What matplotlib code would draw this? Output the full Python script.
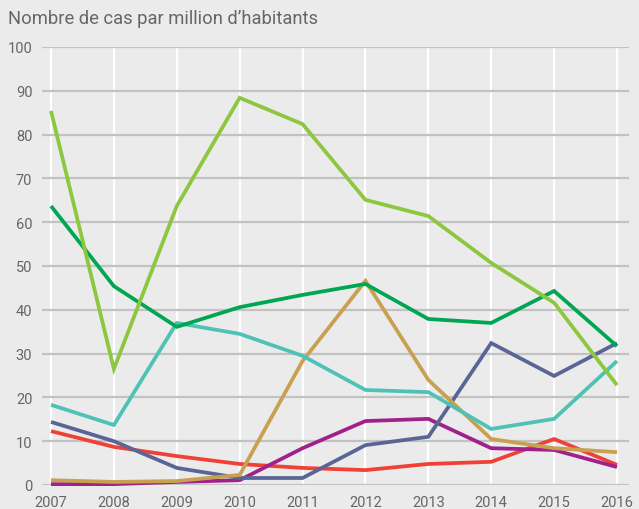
import matplotlib
matplotlib.use("Agg")
import matplotlib.pyplot as plt

years = [2007, 2008, 2009, 2010, 2011, 2012, 2013, 2014, 2015, 2016]

light_green = [85.4, 26.5, 63.7, 88.4, 82.4, 65.1, 61.4, 50.7, 41.6, 22.8]
dark_green = [63.7, 45.4, 36.1, 40.6, 43.4, 45.9, 37.9, 37.0, 44.3, 31.7]
teal = [18.3, 13.7, 37.0, 34.5, 29.5, 21.7, 21.2, 12.8, 15.1, 28.3]
slate = [14.4, 10.0, 3.9, 1.6, 1.6, 9.1, 11.0, 32.4, 24.9, 32.4]
gold = [1.1, 0.7, 0.9, 2.3, 28.3, 46.6, 24.0, 10.5, 8.4, 7.5]
red = [12.3, 8.7, 6.6, 4.8, 3.9, 3.4, 4.8, 5.3, 10.5, 4.6]
purple = [0.2, 0.2, 0.7, 1.1, 8.4, 14.6, 15.1, 8.4, 8.0, 4.1]

y_ticks = [0, 10, 20, 30, 40, 50, 60, 70, 80, 90, 100]
title = "Nombre de cas par million d\u2019habitants"

series = [
    (red, "#ef4136"),
    (purple, "#a0218c"),
    (slate, "#5a6596"),
    (gold, "#c9a050"),
    (teal, "#4fc1b5"),
    (dark_green, "#00a651"),
    (light_green, "#8dc63f"),
]

bg = "#ebebeb"
fig = plt.figure(figsize=(6.39, 5.10), dpi=100, facecolor=bg)
W, H = 639, 510
left, right, top, bottom = 42, 629, 48, 486
ax = fig.add_axes([left / W, 1 - bottom / H, (right - left) / W, (bottom - top) / H])
ax.set_facecolor(bg)

# 2007 sits at x=51 px, 2016 at x=617 px
px_per_year = (617 - 51) / 9
ax.set_xlim(2007 - (51 - left) / px_per_year, 2016 + (right - 617) / px_per_year)
ax.set_ylim(0, 100)

for sp in ax.spines.values():
    sp.set_visible(False)

for yv in y_ticks:
    ax.axhline(yv, color="#c2c2c2", lw=1.6, zorder=1)
for xv in years:
    ax.plot([xv, xv], [0, 100], color="white", lw=1.6, zorder=0.5)

for vals, col in series:
    ax.plot(years, vals, color=col, lw=2.7, zorder=3, clip_on=False,
            solid_joinstyle="miter", solid_capstyle="butt")

font = "Roboto"
ax.set_yticks(y_ticks)
ax.set_yticklabels([str(v) for v in y_ticks], fontsize=10.5, color="#666666",
                   family=font)
ax.set_xticks(years)
ax.set_xticklabels([str(v) for v in years], fontsize=10.5, color="#666666",
                   family=font)
ax.tick_params(axis="both", length=0)
ax.tick_params(axis="y", pad=7)
ax.tick_params(axis="x", pad=7)

fig.text(8 / W, 1 - 19 / H, title, fontsize=13.2, color="#666666", family=font,
         va="center", ha="left")

fig.savefig("out.png", dpi=100, facecolor=bg)
